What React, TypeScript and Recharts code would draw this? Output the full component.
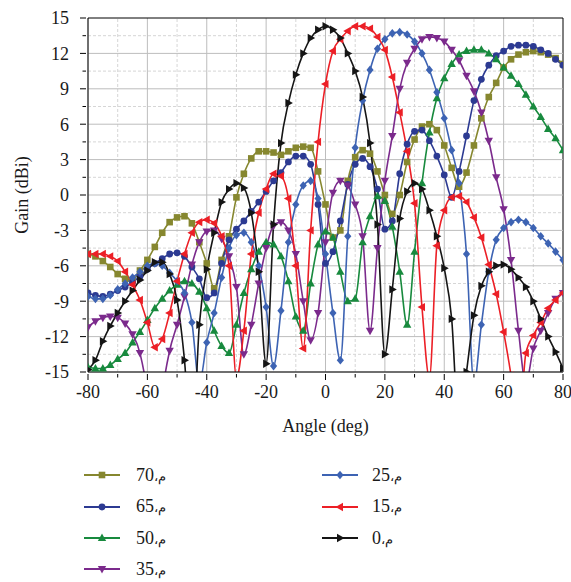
import React from "react"
import { LineChart, Line, XAxis, YAxis, ReferenceLine } from "recharts"

const FONT = '"Liberation Serif", "DejaVu Serif", serif'

// angle grid, deg
const angles = [
  -80, -77.5, -75, -72.5, -70, -67.5, -65, -62.5, -60, -57.5, -55, -52.5, -50,
  -47.5, -45, -42.5, -40, -37.5, -35, -32.5, -30, -27.5, -25, -22.5, -20, -17.5,
  -15, -12.5, -10, -7.5, -5, -2.5, 0, 2.5, 5, 7.5, 10, 12.5, 15,
  17.5, 20, 22.5, 25, 27.5, 30, 32.5, 35, 37.5, 40, 42.5, 45, 47.5,
  50, 52.5, 55, 57.5, 60, 62.5, 65, 67.5, 70, 72.5, 75, 77.5, 80,
]

// gain (dBi) per steering angle
const gain70 = [
  -5.0, -5.2, -5.6, -6.1, -6.7, -7.1, -7.2, -6.4, -5.5, -4.4, -3.2, -2.3, -1.9,
  -1.8, -2.4, -4.0, -5.8, -7.9, -5.5, -3.5, -0.2, 1.8, 3.1, 3.7, 3.7, 3.6,
  3.4, 3.7, 4.0, 4.1, 4.0, 2.0, -0.8, -3.6, -3.0, 1.2, 3.2, 3.8, 3.5,
  2.0, 0.0, -1.6, 0.0, 2.8, 4.7, 5.8, 6.0, 5.5, 4.2, 2.3, 0.7, 1.9,
  4.2, 6.5, 8.3, 9.5, 10.8, 11.5, 11.9, 12.1, 12.2, 12.1, 11.9, 11.6, 11.1,
]
const gain65 = [
  -8.3, -8.5, -8.6, -8.4, -8.1, -7.8, -7.4, -6.9, -6.3, -5.8, -5.4, -5.0, -4.9,
  -5.2, -6.1, -7.1, -8.7, -8.3, -5.8, -3.8, -2.9, -2.2, -1.4, -0.6, 0.3, 1.2,
  1.9, 2.8, 3.3, 3.3, 2.6, -0.8, -5.8, -4.8, -2.2, 0.9, 2.6, 3.1, 2.4,
  0.5, -2.9, -2.2, 1.8, 4.3, 5.4, 5.5, 4.6, 3.3, 1.7, -0.2, 2.0, 5.0,
  8.0, 9.8, 11.0, 11.8, 12.2, 12.6, 12.7, 12.7, 12.6, 12.3, 12.0, 11.5, 11.0,
]
const gain50 = [
  -14.6, -14.7, -14.7, -14.4, -13.9, -13.4, -12.5, -11.6, -10.6, -9.6, -8.8, -8.1, -7.6,
  -7.3, -7.5, -8.2, -9.6, -11.5, -12.8, -13.4, -11.0, -8.3, -6.3, -4.8, -4.0, -4.2,
  -5.2, -7.3, -10.3, -11.5, -7.5, -4.2, -3.1, -3.6, -6.5, -9.0, -8.8, -4.0, -1.8,
  -0.1, -0.5, -2.7, -6.5, -11.0, -4.8, 1.0, 5.3, 8.2, 9.9, 11.1, 11.9, 12.2,
  12.3, 12.3, 12.0, 11.5, 10.8, 10.1, 9.4, 8.5, 7.5, 6.6, 5.6, 4.8, 3.8,
]
const gain35 = [
  -11.2, -10.7, -10.4, -10.3, -10.4, -10.9, -11.8, -13.4, -17, -25, -17, -13.2, -11.0,
  -8.6, -5.9, -4.0, -3.1, -3.0, -3.7, -5.2, -7.8, -13.5, -11.0, -7.5, -4.5, -2.6,
  -2.3, -3.0, -5.0, -9.0, -12.3, -10.0, -4.0, 0.2, 1.2, 0.8, -0.8, -3.5, -11.5,
  -4.5, 1.2, 5.0, 9.0, 11.2, 12.4, 13.2, 13.4, 13.3, 13.0, 12.3, 11.4, 10.1,
  8.8, 7.0, 4.6, 1.5, -1.2, -5.5, -11.5, -16, -13.0, -11.5, -10.0, -8.8, -8.3,
]
const gain25 = [
  -8.6, -8.8, -8.8, -8.5, -8.0, -7.5, -7.0, -6.5, -6.0, -5.8, -6.0, -6.6, -7.3,
  -8.3, -10.8, -16, -12.5, -10.0, -7.0, -4.5, -3.4, -3.2, -4.0, -6.0, -9.5, -14.5,
  -9.8, -4.0, -0.8, 0.8, 1.2, -0.3, -5.0, -10.0, -14.0, -3.5, 4.0, 8.0, 10.6,
  12.4, 13.2, 13.7, 13.8, 13.6, 13.0, 12.0, 10.6, 8.7, 6.5, 3.8, 1.0, -5.0,
  -16, -11.0, -6.5, -3.8, -2.8, -2.3, -2.1, -2.3, -2.8, -3.5, -4.1, -4.8, -5.5,
]
const gain15 = [
  -5.0, -5.0, -5.0, -5.2, -5.6, -6.5, -7.6, -8.9, -10.8, -12.9, -12.2, -10.0, -7.3,
  -5.0, -3.2, -2.3, -2.1, -2.4, -3.5, -6.0, -15.5, -11.5, -5.0, -1.5, 0.5, 1.8,
  1.6, -0.3, -6.0, -13.0, -3.0, 4.5, 9.4, 12.2, 13.2, 13.9, 14.3, 14.3, 14.1,
  13.4, 12.3, 10.0, 7.0, 3.7, -0.7, -9.5, -15.5, -4.3, -1.3, -0.2, -0.1, -0.6,
  -1.9, -3.6, -5.9, -8.4, -11.6, -15.3, -20, -13.4, -11.9, -10.8, -9.6, -8.9, -8.3,
]
const gain0 = [
  -14.8, -14.0, -12.4, -11.1, -10.0, -9.0, -8.1, -7.2, -6.4, -5.7, -5.7, -6.7, -8.9,
  -14.0, -22, -11.0, -6.3, -3.2, -0.6, 0.5, 1.0, 0.6, -1.5, -6.5, -14.3, -2.5,
  4.4, 7.8, 10.2, 12.0, 13.3, 14.0, 14.3, 14.0, 13.3, 12.0, 10.5, 8.3, 4.4,
  -2.5, -13.5, -8.0, -2.0, 0.3, 1.0, 0.5, -1.3, -3.5, -6.2, -10.5, -20, -15.0,
  -10.2, -7.7, -6.5, -6.0, -5.9, -6.3, -7.0, -7.8, -9.0, -10.5, -12.0, -13.3, -14.7,
]

const xMajor = [-80, -60, -40, -20, 0, 20, 40, 60, 80]
const xMinor = [-70, -50, -30, -10, 10, 30, 50, 70]
const yMajor = [-15, -12, -9, -6, -3, 0, 3, 6, 9, 12, 15]
const yMinor = [-13.5, -10.5, -7.5, -4.5, -1.5, 1.5, 4.5, 7.5, 10.5, 13.5]

type Shape = "square" | "circle" | "up" | "down" | "diamond" | "left" | "right"

const series: { key: string; label: string; color: string; shape: Shape; values: number[] }[] = [
  { key: "g70", label: "70", color: "#86872f", shape: "square", values: gain70 },
  { key: "g65", label: "65", color: "#2c3a92", shape: "circle", values: gain65 },
  { key: "g50", label: "50", color: "#188a3e", shape: "up", values: gain50 },
  { key: "g35", label: "35", color: "#7b2a8c", shape: "down", values: gain35 },
  { key: "g25", label: "25", color: "#3d63b3", shape: "diamond", values: gain25 },
  { key: "g15", label: "15", color: "#ec1f26", shape: "left", values: gain15 },
  { key: "g0", label: "0", color: "#151515", shape: "right", values: gain0 },
]

const data = angles.map((angle, i) => {
  const row: { [k: string]: number } = { angle }
  series.forEach((s) => {
    row[s.key] = s.values[i]
  })
  return row
})

function Marker({ cx, cy, shape, color }: { cx: number; cy: number; shape: Shape; color: string }) {
  if (cx == null || cy == null) return null
  switch (shape) {
    case "square":
      return <rect x={cx - 3.3} y={cy - 3.3} width={6.6} height={6.6} fill={color} />
    case "circle":
      return <circle cx={cx} cy={cy} r={3.4} fill={color} />
    case "up":
      return <polygon points={`${cx},${cy - 4.5} ${cx - 4.2},${cy + 3} ${cx + 4.2},${cy + 3}`} fill={color} />
    case "down":
      return <polygon points={`${cx},${cy + 4.5} ${cx - 4.2},${cy - 3} ${cx + 4.2},${cy - 3}`} fill={color} />
    case "diamond":
      return <polygon points={`${cx},${cy - 4.3} ${cx + 3.6},${cy} ${cx},${cy + 4.3} ${cx - 3.6},${cy}`} fill={color} />
    case "left":
      return <polygon points={`${cx - 4.5},${cy} ${cx + 3},${cy - 4.2} ${cx + 3},${cy + 4.2}`} fill={color} />
    default:
      return <polygon points={`${cx + 4.5},${cy} ${cx - 3},${cy - 4.2} ${cx - 3},${cy + 4.2}`} fill={color} />
  }
}

const XTick = (props: any) => {
  const { x, y, payload } = props
  const major = xMajor.includes(payload.value)
  return (
    <g>
      <line x1={x} x2={x} y1={y} y2={y + (major ? 6 : 3.5)} stroke="#000" />
      {major && (
        <text x={x} y={y + 11} dy="0.71em" textAnchor="middle" fontSize={18} fontFamily={FONT} fill="#1a1a1a">
          {payload.value}
        </text>
      )}
    </g>
  )
}

const YTick = (props: any) => {
  const { x, y, payload } = props
  const major = yMajor.includes(payload.value)
  return (
    <g>
      <line x1={x - (major ? 6 : 3.5)} x2={x} y1={y} y2={y} stroke="#000" />
      {major && (
        <text x={x - 17} y={y} dy="0.35em" textAnchor="end" fontSize={18} fontFamily={FONT} fill="#1a1a1a">
          {payload.value}
        </text>
      )}
    </g>
  )
}

const legendCols = [
  { lineX: 84, textX: 136, keys: ["g70", "g65", "g50", "g35"] },
  { lineX: 322, textX: 372, keys: ["g25", "g15", "g0"] },
]
const legendRows = [475, 506.5, 538, 569]

export default function App() {
  return (
    <div style={{ position: "relative", width: 571, height: 582, fontFamily: FONT }}>
      <style>{"html,body{margin:0;overflow:hidden}svg.recharts-surface{overflow:visible !important}"}</style>
      <LineChart width={571} height={438} data={data} margin={{ top: 18, right: 8, bottom: 0, left: 0 }}>
        {xMinor.map((v) => (
          <ReferenceLine key={`xm${v}`} x={v} stroke="#d6d6d6" strokeDasharray="3 2" zIndex={-100} />
        ))}
        {yMinor.map((v) => (
          <ReferenceLine key={`ym${v}`} y={v} stroke="#d6d6d6" strokeDasharray="3 2" zIndex={-100} />
        ))}
        {xMajor.map((v) => (
          <ReferenceLine key={`xM${v}`} x={v} stroke={v === 80 ? "#000" : "#bdbdbd"} zIndex={-90} />
        ))}
        {yMajor.map((v) => (
          <ReferenceLine key={`yM${v}`} y={v} stroke={v === 15 ? "#000" : "#bdbdbd"} zIndex={-90} />
        ))}
        <XAxis
          dataKey="angle"
          type="number"
          domain={[-80, 80]}
          ticks={[...xMajor, ...xMinor].sort((a, b) => a - b)}
          interval={0}
          allowDataOverflow
          height={66}
          tickSize={0}
          tickLine={false}
          axisLine={{ stroke: "#000" }}
          tick={<XTick />}
          label={(p: any) => {
            const vb = p.viewBox
            return (
              <text x={vb.x + vb.width / 2} y={vb.y + 60} textAnchor="middle" fontSize={18} fontFamily={FONT} fill="#1a1a1a">
                Angle (deg)
              </text>
            )
          }}
        />
        <YAxis
          type="number"
          domain={[-15, 15]}
          ticks={[...yMajor, ...yMinor].sort((a, b) => a - b)}
          interval={0}
          allowDataOverflow
          width={88}
          tickSize={0}
          tickLine={false}
          axisLine={{ stroke: "#000" }}
          tick={<YTick />}
          label={(p: any) => {
            const vb = p.viewBox
            const cx = vb.x + 22
            const cy = vb.y + vb.height / 2
            return (
              <text x={cx} y={cy} transform={`rotate(-90 ${cx} ${cy})`} textAnchor="middle" dy="0.35em" fontSize={18} fontFamily={FONT} fill="#1a1a1a">
                Gain (dBi)
              </text>
            )
          }}
        />
        {series.map((s) => (
          <Line
            key={s.key}
            dataKey={s.key}
            type="monotone"
            stroke={s.color}
            strokeWidth={1.6}
            isAnimationActive={false}
            dot={(p: any) => <Marker key={`${s.key}-${p.index}`} cx={p.cx} cy={p.cy} shape={s.shape} color={s.color} />}
            activeDot={false}
          />
        ))}
      </LineChart>
      {legendCols.map((col) =>
        col.keys.map((k, r) => {
          const s = series.find((q) => q.key === k)!
          return (
            <div
              key={k}
              style={{ position: "absolute", left: col.lineX, top: legendRows[r] - 12, height: 24, display: "flex", alignItems: "center" }}
            >
              <svg width={36} height={14} style={{ display: "block" }}>
                <line x1={0} x2={36} y1={7} y2={7} stroke={s.color} strokeWidth={2} />
                <Marker cx={18} cy={7} shape={s.shape} color={s.color} />
              </svg>
              <span style={{ position: "absolute", left: col.textX - col.lineX, fontSize: 18, color: "#1a1a1a", whiteSpace: "nowrap" }}>
                {s.label}
                <span style={{ fontSize: 13 }}>،م</span>
              </span>
            </div>
          )
        })
      )}
    </div>
  )
}
